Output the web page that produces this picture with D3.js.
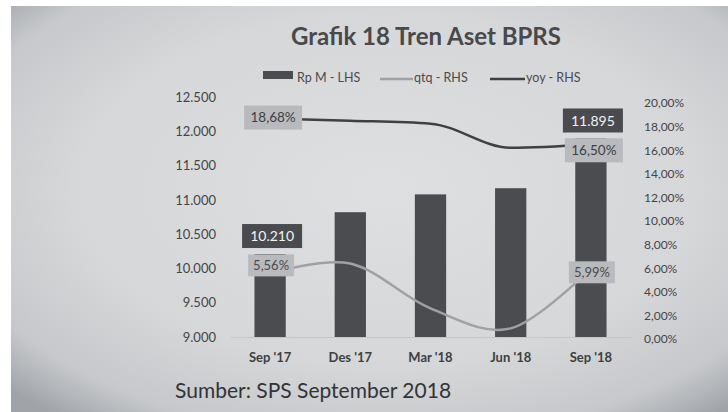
<!DOCTYPE html>
<html>
<head>
<meta charset="utf-8">
<script src="https://cdn.jsdelivr.net/npm/d3@7"></script>
<style>
  html, body { margin: 0; padding: 0; background: #ffffff; }
  svg { display: block; }
  text { font-family: Lato, "Open Sans", sans-serif; }
</style>
</head>
<body>
<svg id="chart" width="728" height="412"></svg>
<script>
// ---- data ----
const categories = ["Sep '17", "Des '17", "Mar '18", "Jun '18", "Sep '18"];
const assetValues = [10210, 10820, 11080, 11170, 11895];      // Rp M - LHS
const qtqValues   = [0.0556, 0.064, 0.026, 0.009, 0.0599];    // qtq - RHS
const yoyValues   = [0.1868, 0.185, 0.1825, 0.162, 0.165];    // yoy - RHS
const leftTicks   = [9000, 9500, 10000, 10500, 11000, 11500, 12000, 12500];
const rightTicks  = [0, 0.02, 0.04, 0.06, 0.08, 0.10, 0.12, 0.14, 0.16, 0.18, 0.20];
const seriesNames = ["Rp M - LHS", "qtq - RHS", "yoy - RHS"];
const titleText   = "Grafik 18 Tren Aset BPRS";
const sourceText  = "Sumber: SPS September 2018";

// labelled points (index into categories)
const barLabelIdx = [0, 4];
const qtqLabelIdx = [0, 4];
const yoyLabelIdx = [0, 4];

// ---- formatting ----
const idLocale = d3.formatLocale({decimal: ",", thousands: ".", grouping: [3], currency: ["Rp", ""]});
const fmtNum = idLocale.format(",.0f");
const fmtPct = idLocale.format(".2%");

const svg = d3.select("#chart");

// photo-like background
const defs = svg.append("defs");
const rg = defs.append("radialGradient").attr("id", "bg")
  .attr("cx", "0.52").attr("cy", "0.45").attr("r", "0.72");
rg.append("stop").attr("offset", "0").attr("stop-color", "#dedfe1");
rg.append("stop").attr("offset", "0.6").attr("stop-color", "#d6d7d9");
rg.append("stop").attr("offset", "0.86").attr("stop-color", "#c6c8cb");
rg.append("stop").attr("offset", "1").attr("stop-color", "#a0a4a9");
svg.append("rect").attr("x", 11).attr("y", 6).attr("width", 717).attr("height", 406).attr("fill", "url(#bg)");

// ---- scales ----
const x = d3.scaleBand().domain(categories).range([230, 631]).paddingInner(0.61).paddingOuter(0.305);
const yL = d3.scaleLinear().domain([9000, 12500]).range([337, 97]);
const yR = d3.scaleLinear().domain([0, 0.20]).range([339, 103]);

// ---- title ----
svg.append("text").attr("x", 426).attr("y", 45).attr("text-anchor", "middle")
  .attr("font-size", 24).attr("font-weight", 700).attr("fill", "#48494b").text(titleText);

// ---- axes ----
const axL = svg.append("g").attr("transform", "translate(216,0)")
  .call(d3.axisLeft(yL).tickValues(leftTicks).tickFormat(fmtNum).tickSize(0).tickPadding(0));
axL.select(".domain").remove();
axL.selectAll("text").attr("font-size", 13).attr("fill", "#444547").attr("font-family", "Lato");

const axR = svg.append("g").attr("transform", "translate(644,0)")
  .call(d3.axisRight(yR).tickValues(rightTicks).tickFormat(d => fmtPct(d)).tickSize(0).tickPadding(0));
axR.select(".domain").remove();
axR.selectAll("text").attr("font-size", 12).attr("fill", "#444547").attr("font-family", "Lato");

const axX = svg.append("g").attr("transform", "translate(0,337)")
  .call(d3.axisBottom(x).tickSize(0).tickPadding(16));
axX.select(".domain").attr("stroke", "#c4c5c8").attr("stroke-width", 1);
axX.selectAll("text").attr("font-size", 13).attr("font-weight", 700).attr("fill", "#3e3f41").attr("font-family", "Lato");

// ---- bars ----
svg.append("g").selectAll("rect").data(assetValues).join("rect")
  .attr("x", (d, i) => x(categories[i]))
  .attr("width", x.bandwidth())
  .attr("y", d => yL(d))
  .attr("height", d => yL(9000) - yL(d))
  .attr("fill", "#4b4c4f");

// ---- lines ----
const px = (d, i) => x(categories[i]) + x.bandwidth() / 2;
const lineQ = d3.line().x(px).y(d => yR(d)).curve(d3.curveCardinal.tension(0));
const lineY = d3.line().x(px).y(d => yR(d)).curve(d3.curveMonotoneX);
svg.append("path").datum(qtqValues).attr("d", lineQ)
  .attr("fill", "none").attr("stroke", "#a0a1a4").attr("stroke-width", 2.5);
svg.append("path").datum(yoyValues).attr("d", lineY)
  .attr("fill", "none").attr("stroke", "#3f4043").attr("stroke-width", 2.5);

// ---- data labels ----
function boxLabel(cx, cy, txt, bg, fg, minW, h, fs) {
  const g = svg.append("g");
  const r = g.append("rect");
  const t = g.append("text").attr("x", cx).attr("y", cy).attr("dy", "0.36em")
    .attr("text-anchor", "middle").attr("font-size", fs).attr("fill", fg).text(txt);
  const w = Math.max(minW, t.node().getComputedTextLength() + 10);
  r.attr("x", cx - w / 2).attr("y", cy - h / 2).attr("width", w).attr("height", h).attr("fill", bg);
}
const cxOf = i => x(categories[i]) + x.bandwidth() / 2;

barLabelIdx.forEach(i => boxLabel(cxOf(i) + 2, yL(assetValues[i]) - 18, fmtNum(assetValues[i]), "#4a4b4e", "#f2f2f2", 60, 24, 14));
const yoyDy = [-1, 6];
yoyLabelIdx.forEach((i, k) => boxLabel(cxOf(i) + 3, yR(yoyValues[i]) + yoyDy[k], fmtPct(yoyValues[i]), "#b9babd", "#3e3f41", 58, 24, 13.5));
const qtqDy = [-8, 4];
qtqLabelIdx.forEach((i, k) => boxLabel(cxOf(i) + 1, yR(qtqValues[i]) + qtqDy[k], fmtPct(qtqValues[i]), "#b9babd", "#4a4b4d", 46, 22, 13));

// ---- legend ----
const lg = svg.append("g").attr("font-size", 12.5).attr("fill", "#4a4b4d");
lg.append("rect").attr("x", 263).attr("y", 71).attr("width", 30).attr("height", 8).attr("fill", "#4b4c4f");
lg.append("text").attr("x", 297).attr("y", 78).attr("dy", "0.33em").attr("fill", "#4a4b4d").text(seriesNames[0]);
lg.append("line").attr("x1", 380).attr("x2", 413).attr("y1", 79).attr("y2", 79).attr("stroke", "#a0a1a4").attr("stroke-width", 2.5);
lg.append("text").attr("x", 414).attr("y", 78).attr("dy", "0.33em").attr("fill", "#4a4b4d").text(seriesNames[1]);
lg.append("line").attr("x1", 490).attr("x2", 525).attr("y1", 79).attr("y2", 79).attr("stroke", "#3f4043").attr("stroke-width", 2.5);
lg.append("text").attr("x", 526).attr("y", 78).attr("dy", "0.33em").attr("fill", "#4a4b4d").text(seriesNames[2]);

// ---- source ----
svg.append("text").attr("x", 175).attr("y", 398).attr("font-size", 21).attr("fill", "#333436").text(sourceText);
</script>
</body>
</html>
